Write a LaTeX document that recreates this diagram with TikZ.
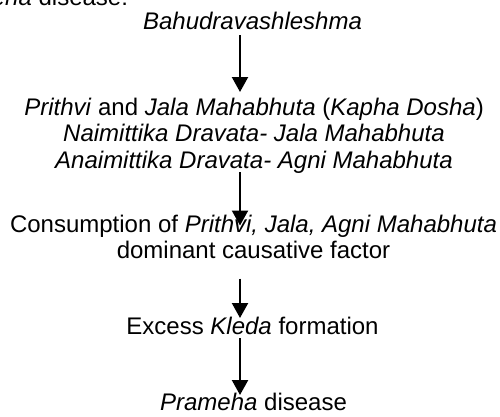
\documentclass[tikz,border=0pt]{standalone}
\usepackage{fontspec}
\setmainfont{Liberation Sans}
\usetikzlibrary{arrows.meta,calc}
\begin{document}
\begin{tikzpicture}[x=1pt,y=-1pt,
  txt/.style={inner sep=0pt, outer sep=0pt, align=center,
    font=\fontsize{24}{26.5}\selectfont, anchor=base},
  arr/.style={line width=2.2pt, -{Triangle[length=15pt,width=16pt]}}]
\useasboundingbox (0,0) rectangle (500,416);
\coordinate (axis) at (240,0);
\node[txt, anchor=base east] (cut) at (128,5) {\textit{Prameha} disease:};
\node[txt] (n1) at (252.5,29) {\textit{Bahudravashleshma}};
% base anchor of a multi-line node = baseline of its last line
\node[txt] (n2) at (254,168) {\textit{Prithvi} and \textit{Jala Mahabhuta} (\textit{Kapha Dosha})\\
  \textit{Naimittika Dravata- Jala Mahabhuta}\\
  \textit{Anaimittika Dravata- Agni Mahabhuta}};
\node[txt] (n3) at (253.5,258.5) {Consumption of \textit{Prithvi, Jala, Agni Mahabhuta}\\
  dominant causative factor};
\node[txt] (n4) at (252.5,334) {Excess \textit{Kleda} formation};
\node[txt] (n5) at (253.5,410.5) {\textit{Prameha} disease};
\draw[arr] ($(n1.base -| axis)+(0,6)$) -- ($(n2.base -| axis)+(0,-76)$);
\draw[arr] ($(n2.base -| axis)+(0,4)$) -- ($(n3.base -| axis)+(0,-33)$);
\draw[arr] ($(n3.base -| axis)+(0,20)$) -- ($(n4.base -| axis)+(0,-16)$);
\draw[arr] ($(n4.base -| axis)+(0,4)$) -- ($(n5.base -| axis)+(0,-15.5)$);
\end{tikzpicture}
\end{document}
